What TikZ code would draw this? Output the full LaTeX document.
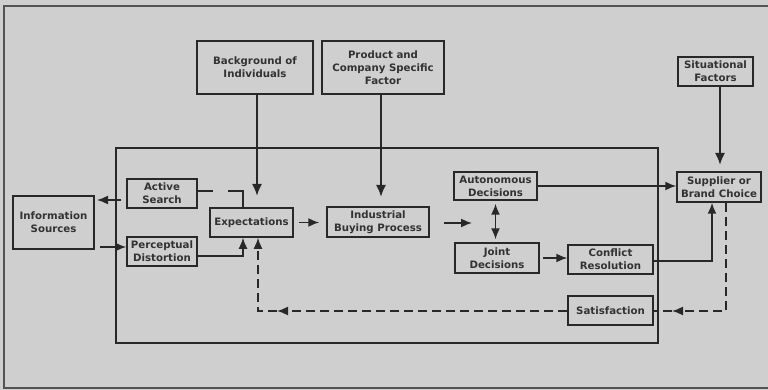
\documentclass[tikz,border=0pt]{standalone}
\usepackage{fontspec}
\setmainfont{DejaVu Sans}
\usetikzlibrary{arrows.meta}
\definecolor{bg}{RGB}{207,207,207}
\definecolor{ink}{RGB}{40,40,40}
\definecolor{txt}{RGB}{50,50,50}
\tikzset{
  box/.style={draw=ink, line width=1.5pt, fill=bg, text=txt, align=center,
    inner sep=1pt, font=\bfseries\fontsize{10.2}{13}\selectfont},
  tip/.style={-{Latex[length=11pt,width=9pt]}},
  arr/.style={draw=ink, line width=1.6pt, tip},
  arrs/.style={draw=ink, line width=1.6pt, {Latex[length=11pt,width=9pt]}-{Latex[length=11pt,width=9pt]}},
  feed/.style={draw=ink, line width=2pt, -{Latex[length=12pt,width=10pt]}},
  plain/.style={draw=ink, line width=1.6pt},
  dsh/.style={draw=ink, line width=1.6pt, dash pattern=on 9pt off 5pt},
  darr/.style={dsh, tip},
}
\begin{document}
\begin{tikzpicture}[x=1pt, y=-1pt]
  % page and frame
  \fill[bg] (0,0) rectangle (768,390);
  \useasboundingbox (0,0) rectangle (768,390);
  \draw[ink!80, line width=1.6pt] (768,6) -- (4,6) -- (4,388) -- (768,388);

  % buying center frame
  \draw[ink, line width=1.6pt] (116,148) rectangle (658,343);

  % boxes
  \node[box, minimum width=81pt, minimum height=53pt] (info)   at (53.5,222.5) {Information\\Sources};
  \node[box, minimum width=70pt, minimum height=29pt] (active) at (162,193.5) {Active\\Search};
  \node[box, minimum width=70pt, minimum height=29pt] (percep) at (162,251.5) {Perceptual\\Distortion};
  \node[box, minimum width=83pt, minimum height=29pt] (expect) at (251.5,222.5) {Expectations};
  \node[box, minimum width=102pt, minimum height=30pt] (indus) at (378,222) {Industrial\\Buying Process};
  \node[box, minimum width=116pt, minimum height=53pt] (backg) at (255,67.5) {Background of\\Individuals};
  \node[box, minimum width=122pt, minimum height=53pt] (prod)  at (383,67.5) {Product and\\Company Specific\\Factor};
  \node[box, minimum width=75pt, minimum height=29pt] (situ)   at (715.5,71.5) {Situational\\Factors};
  \node[box, minimum width=84pt, minimum height=30pt] (supp)   at (719,187) {Supplier or\\Brand Choice};
  \node[box, minimum width=83pt, minimum height=28pt] (auto)   at (495.5,186) {Autonomous\\Decisions};
  \node[box, minimum width=84pt, minimum height=30pt] (joint)  at (497,258) {Joint\\Decisions};
  \node[box, minimum width=85pt, minimum height=29pt] (confl)  at (610.5,259.5) {Conflict\\Resolution};
  \node[box, minimum width=85pt, minimum height=29pt] (satis)  at (610.5,310.5) {Satisfaction};

  % external influences
  \coordinate (bgT) at (257,196);
  \coordinate (pdT) at (381,197);
  \coordinate (stT) at (720,165);
  \draw[feed] (backg.south -| bgT) -- (bgT);
  \draw[feed] (prod.south -| pdT) -- (pdT);
  \draw[feed] (situ.south -| stT) -- (stT);

  % information loop
  \coordinate (asT) at (97,200);
  \draw[arr, shorten <=5pt] (active.west |- asT) -- (asT);
  \coordinate (ipS) at (100,247);
  \draw[arr] (ipS) -- (percep.west |- ipS);

  \coordinate (ae) at (243,191);
  \draw[plain] (active.east |- ae) -- ++(15,0);
  \draw[plain] (ae) ++(-15,0) -- (ae) -- (ae |- expect.north);
  \coordinate (pe) at (243,256);
  \draw[arr] (percep.east |- pe) -- (pe) -- (pe |- expect.south);

  % buying process
  \draw[arr, shorten <=5pt, shorten >=7pt] (expect.east) -- (expect.east -| indus.west);
  \coordinate (ij) at (472,223);
  \draw[arr, shorten <=14pt] (indus.east |- ij) -- (ij);
  \draw[arrs, shorten <=3pt, shorten >=3pt] (auto.south) -- (auto.south |- joint.north);
  \draw[arr] (auto.east) -- (auto.east -| supp.west);
  \draw[arr, shorten <=3pt] (joint.east) -- (joint.east -| confl.west);
  \coordinate (cs) at (712,261);
  \draw[arr] (confl.east |- cs) -- (cs) -- (cs |- supp.south);

  % feedback
  \coordinate (ss) at (726,311);
  \coordinate (ssT) at (672,311);
  \draw[darr] (ss |- supp.south) -- (ss) -- (ssT);
  \draw[dsh] (ssT) -- (satis.east |- ssT);
  \coordinate (se) at (277,311);
  \coordinate (sc) at (258,311);
  \draw[darr] (satis.west |- se) -- (se);
  \draw[darr] (se) -- (sc) -- (sc |- expect.south);
\end{tikzpicture}
\end{document}
